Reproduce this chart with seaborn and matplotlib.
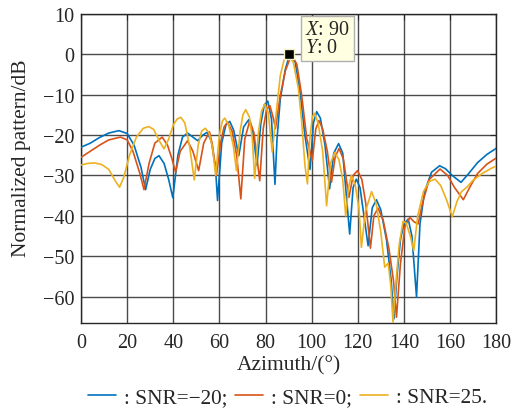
import matplotlib
matplotlib.use("Agg")
import matplotlib.pyplot as plt
import seaborn as sns
import pandas as pd
from matplotlib.lines import Line2D

# ---- data ----
az_m20 = [0, 4, 8, 12, 16.4, 20, 23, 26, 28.0, 30, 32, 33.8, 36, 38, 39.8, 42, 44, 46.2, 48.5, 50.6,
          52.8, 54.7, 56.5, 58.3, 59.2, 61, 62.8, 64.5, 66.2, 68.4, 70.5, 72.7, 74.6, 76.3, 78, 79.5,
          81, 82.6, 84.1, 85, 86.4, 88.6, 90.5, 92.9, 95, 97.1, 99.3, 100.8, 102.2, 103.8, 105.8,
          107.8, 109.6, 111.7, 113.5, 116.5, 118, 119.4, 121, 124.5, 126.3, 128.1, 130, 132.5, 134.5,
          135.7, 137, 138.5, 140, 141.9, 143.5, 145.5, 147, 149, 152, 155.5, 158, 161, 164.8, 168,
          172, 176, 180]
pat_m20 = [-23.0, -22.0, -20.6, -19.5, -18.9, -19.6, -22.5, -28, -33.5, -28.5, -25.8, -25.1, -27, -31,
           -35.5, -25, -20.5, -19.5, -20.5, -21.4, -20, -19.3, -21.5, -28, -36.2, -22, -17.5, -16.6,
           -18.8, -25.1, -18, -16.2, -19.5, -27.5, -17, -12.5, -11.6, -16, -32.2, -20.9, -11.1, -3.7,
           0, -2, -9.4, -20.1, -28.5, -17, -14.2, -15.8, -22.5, -33.3, -24.5, -22.1, -24.5, -44.5,
           -33, -30.9, -33, -47.4, -38, -36.0, -38.5, -46, -56, -65.5, -55, -46, -42, -40.8, -45,
           -60.1, -42, -34, -29.2, -27.6, -28.3, -30, -31.7, -29.6, -26.8, -24.8, -23.3]

az_0 = [0, 4, 8, 12, 17.1, 20, 22.5, 25.5, 27.3, 29.5, 32, 35.2, 37.5, 39.5, 41.0, 43, 46.2, 48.5,
        51.0, 53.2, 55.7, 57, 58.7, 60.5, 62, 63.5, 65.5, 67.5, 69.3, 71, 73.2, 75, 77.5, 79, 80.5,
        81.9, 83.5, 84.3, 86.4, 88.6, 91.3, 93.6, 95.7, 97.9, 100.3, 101.8, 103.2, 104.8, 106.8,
        108.6, 110.2, 111.9, 113.8, 116.2, 118, 119.9, 121.8, 123.5, 125.5, 127, 128.8, 131, 133.5,
        135.5, 136.8, 138.5, 140.5, 142.6, 144.5, 146.2, 148, 151, 155.7, 159, 162, 165.8, 168.5,
        172, 176, 180]
pat_0 = [-25.5, -24, -22.5, -21.2, -20.5, -21.2, -24, -29.5, -33.5, -27, -22, -20.5, -22.5, -26,
         -29.2, -24, -21.4, -24, -28.8, -22, -19.2, -22.5, -30.0, -22, -18, -16.8, -19, -25, -35.8,
         -21, -16.4, -19.5, -31.3, -18.5, -13.5, -12.7, -16, -18.4, -10.2, -4.1, 0, -2.5, -10.2,
         -20.9, -26.3, -18.5, -16.4, -18.5, -24, -31.7, -25.5, -23.3, -26, -35.4, -30, -28.8, -31,
         -37, -48.0, -40, -38.1, -41, -48, -56, -65.1, -52, -42.5, -40.4, -41.5, -42.0, -37, -31,
         -28.4, -30, -33, -36.0, -33, -29.5, -27.2, -25.7]

az_25 = [0, 3, 6, 9, 12, 15, 16.7, 18.5, 21, 24, 27, 29.4, 31.5, 34, 36.0, 38, 40, 41.7, 43.3, 45,
         47, 49.1, 50.8, 52.3, 53.9, 55.5, 57, 58.4, 60, 61.3, 62.3, 64, 66, 67.4, 69, 70.2, 71.4,
         73, 74.3, 75.3, 77, 78.3, 79.7, 81.2, 82.9, 85, 86.4, 88, 89.5, 92.1, 94.3, 95.7, 97.1,
         98.2, 99.2, 100.3, 101.3, 102.8, 104.8, 106.5, 108.2, 110, 111.8, 113.5, 114.8, 116,
         117.2, 118.8, 120.5, 121.6, 123.3, 126.0, 128, 130, 131.7, 133.2, 134.3, 135.3, 136.5,
         138, 139.7, 141, 142.8, 144.3, 146, 148.5, 151, 153.5, 156, 158.5, 161.0, 163, 165,
         167.3, 170, 174, 178, 180]
pat_25 = [-27.4, -27.0, -26.9, -27.3, -28.5, -31.5, -32.9, -30.5, -25, -20.5, -18.3, -17.9, -18.6,
          -21.5, -23.4, -21, -17.5, -16.0, -15.6, -17, -22.5, -31.1, -22.5, -19, -18.3, -19.5, -23,
          -30.0, -20, -16.5, -15.8, -17.5, -22.5, -28.8, -19, -15, -13.7, -15.5, -21, -30.7, -19,
          -14, -12.3, -14.5, -24.2, -12.7, -5.3, -1.5, 0, -2, -8.6, -16.8, -27.5, -32.1, -21,
          -15.5, -14.6, -17, -24, -37.5, -27, -24.3, -26, -31, -40.0, -33, -30.0, -32, -38, -47.8,
          -39, -34.0, -37, -44, -52.7, -51.7, -57, -66.3, -57, -47, -41.3, -41.8, -45, -48.6, -40,
          -34, -31.5, -30.9, -32.5, -36, -40.2, -36.5, -34, -32.9, -31.2, -29.5, -28.2, -27.7]

series_labels = [": SNR=\u221220;", ": SNR=0;", ": SNR=25."]
series_colors = ["#0072BD", "#D95319", "#EDB120"]
x_ticks = [0, 20, 40, 60, 80, 100, 120, 140, 160, 180]
y_ticks = [-60, -50, -40, -30, -20, -10, 0, 10]
tip_x, tip_y = 90, 0

df = pd.concat([
    pd.DataFrame({"az": az_m20, "pat": pat_m20, "s": series_labels[0]}),
    pd.DataFrame({"az": az_0, "pat": pat_0, "s": series_labels[1]}),
    pd.DataFrame({"az": az_25, "pat": pat_25, "s": series_labels[2]}),
], ignore_index=True)

sns.set_style("white")
plt.rcParams["font.family"] = ["Liberation Serif", "DejaVu Serif"]
plt.rcParams["mathtext.fontset"] = "custom"
plt.rcParams["mathtext.rm"] = "Liberation Serif"
plt.rcParams["mathtext.it"] = "Liberation Serif:italic"

fig = plt.figure(figsize=(5.13, 4.10), dpi=100)
ax = fig.add_axes([0.158, 0.21, 0.809, 0.7536])

sns.lineplot(data=df, x="az", y="pat", hue="s", hue_order=series_labels,
             palette=series_colors, estimator=None, sort=False, lw=1.2,
             legend=False, ax=ax, zorder=3)

ax.set_xlim(0, 180)
ax.set_ylim(-66.5, 10)
ax.set_xticks(x_ticks)
ax.set_yticks(y_ticks)
ax.grid(True, color="#2b2b2b", lw=1.0, alpha=0.85)
ax.set_axisbelow(True)
for sp in ax.spines.values():
    sp.set_color("#262626")
    sp.set_linewidth(1.0)
ax.tick_params(direction="in", length=4, width=0.8, top=True, right=True,
               labelsize=14.5, colors="#262626")
ax.tick_params(axis="x", pad=7.5)
ax.tick_params(axis="y", pad=5)
for lab in ax.get_xticklabels() + ax.get_yticklabels():
    lab.set_color("#262626")
ax.set_xlabel("Azimuth/(\u00b0)", fontsize=15.5, color="#262626", labelpad=2)
ax.set_ylabel("Normalized pattern/dB", fontsize=15.5, color="#262626", labelpad=8)
ax.yaxis.label.set_y(0.536)

# data tip
ax.plot([tip_x], [tip_y], marker="s", ms=7, color="black", mec="#f4f1c8", mew=1.0,
        zorder=6, clip_on=False)
ax.text(97.3, 3.9, "$\\it{X}$: %d\n$\\it{Y}$: %d" % (tip_x, tip_y), fontsize=14.5,
        va="center", ha="left", linespacing=0.9, zorder=7,
        bbox=dict(boxstyle="square,pad=0.2", fc="#FFFFE1", ec="#b0b0b0", lw=1.0))

handles = [Line2D([0], [0], color=c, lw=1.2) for c in series_colors]
fig.legend(handles, series_labels, loc="center", bbox_to_anchor=(0.5604, 0.029),
           ncol=3, frameon=False, fontsize=15.3, handlelength=1.32, handletextpad=0.38,
           columnspacing=0.36, borderpad=0.1)

fig.savefig("out.png", dpi=100)
